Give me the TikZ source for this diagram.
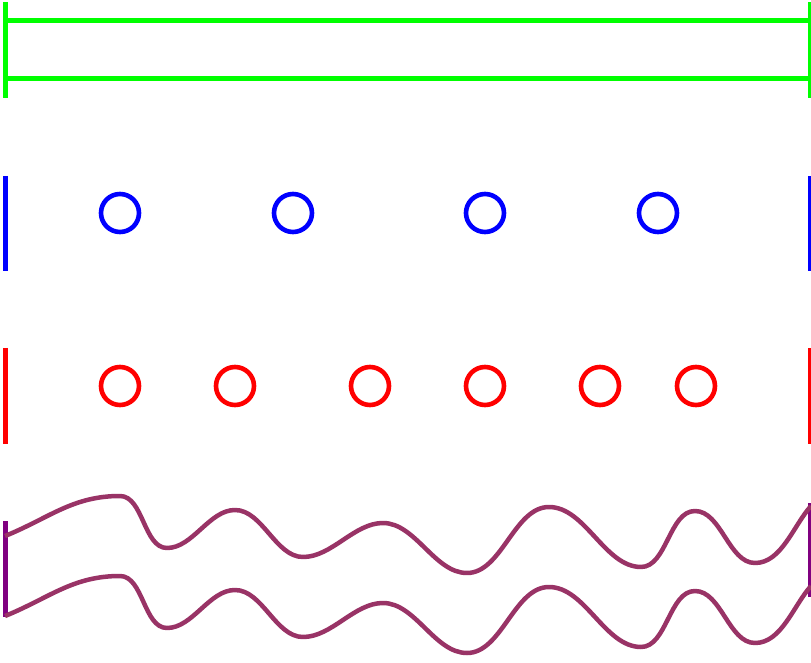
\documentclass[tikz,border=0pt]{standalone}
\definecolor{wavecol}{HTML}{993366}
\definecolor{barpurple}{HTML}{800080}
\begin{document}
\begin{tikzpicture}[x=1pt,y=1pt,line cap=butt,line join=round]
      \clip (0,0) rectangle (811,662);
      % green tube
      \draw[green,line width=5pt] (5,660)--(5,564) (810,660)--(810,564)
            (5,641)--(810,641) (5,583.5)--(810,583.5);
      % blue row
      \draw[blue,line width=5pt] (5,486)--(5,391) (810,486)--(810,391);
      \foreach \x in {120,293,485,658}
        \draw[blue,line width=4.6pt] (\x,449) circle (19);
      % red row
      \draw[red,line width=5pt] (5,314)--(5,218) (810,314)--(810,218);
      \foreach \x in {120,235,370,485,600,696}
        \draw[red,line width=4.6pt] (\x,276) circle (19);
      % wavy tube
      \draw[barpurple,line width=5pt] (5,141)--(5,45) (810,159)--(810,65);
      \foreach \dy in {0,-80}
        \draw[wavecol,line width=4.5pt,yshift=\dy,looseness=0.85] (5,126)
            to[out=22,in=180,looseness=1] (120,166) to[out=0,in=180] (167,114)
            to[out=0,in=180] (235,152) to[out=0,in=180] (303,105)
            to[out=0,in=180] (383,139) to[out=0,in=180] (467,89)
            to[out=0,in=180] (549,155) to[out=0,in=180] (641,95)
            to[out=0,in=180] (695,151) to[out=0,in=180] (755,99)
            to[out=0,in=228] (811,156);
\end{tikzpicture}
\end{document}
